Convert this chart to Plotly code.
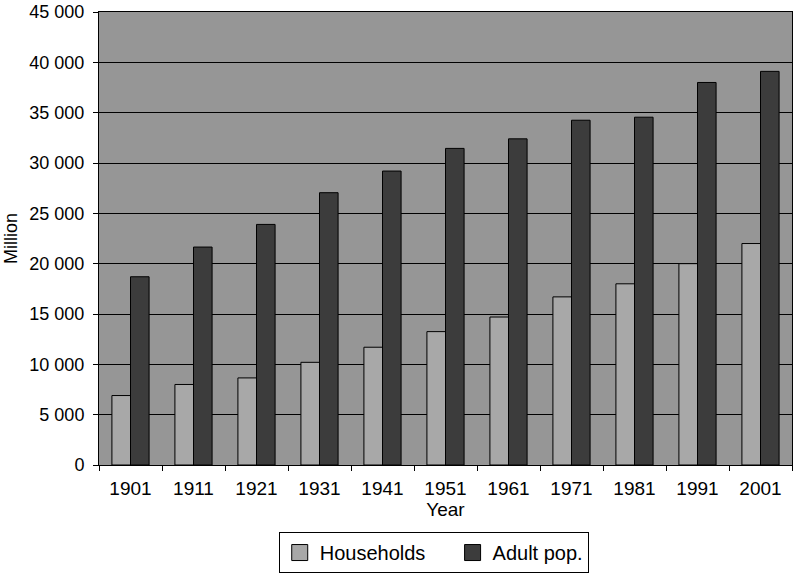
import plotly.graph_objects as go

years = ["1901", "1911", "1921", "1931", "1941", "1951", "1961", "1971", "1981", "1991", "2001"]
households = [6900, 8000, 8650, 10200, 11700, 13250, 14700, 16700, 18000, 20000, 22000]
adult_pop = [18700, 21650, 23900, 27050, 29200, 31450, 32400, 34250, 34550, 38000, 39100]

y_ticks = [0, 5000, 10000, 15000, 20000, 25000, 30000, 35000, 40000, 45000]
y_tick_text = ["0", "5 000", "10 000", "15 000", "20 000", "25 000",
               "30 000", "35 000", "40 000", "45 000"]

FONT = "Liberation Sans, Arial, sans-serif"
HH_COLOR = "#a8a8a8"
ADULT_COLOR = "#3c3c3c"

fig = go.Figure()
fig.add_trace(go.Bar(
    x=years, y=households, name="Households", showlegend=False,
    marker=dict(color=HH_COLOR, line=dict(color="#000000", width=1)),
))
fig.add_trace(go.Bar(
    x=years, y=adult_pop, name="Adult pop.", showlegend=False,
    marker=dict(color=ADULT_COLOR, line=dict(color="#000000", width=1)),
))

# Larger square swatches for the legend (trailing padding widens the first entry)
for name, color in [("Households\u00a0\u00a0\u00a0\u00a0", HH_COLOR), ("Adult pop.", ADULT_COLOR)]:
    fig.add_trace(go.Scatter(
        x=[None], y=[None], mode="markers", name=name,
        marker=dict(symbol="square", size=19, color=color,
                    line=dict(color="#000000", width=1)),
    ))

fig.update_layout(
    width=795, height=577,
    margin=dict(l=99, r=3, t=12, b=112),
    paper_bgcolor="white",
    plot_bgcolor="#969696",
    barmode="group",
    bargap=0.41,
    bargroupgap=0,
    font=dict(family=FONT, size=18, color="#000000"),
    legend=dict(
        orientation="h",
        x=0.483, xanchor="center",
        y=-0.148, yanchor="top",
        bordercolor="#000000", borderwidth=1,
        bgcolor="white",
        font=dict(family=FONT, size=20),
        itemsizing="trace",
    ),
    showlegend=True,
)

fig.update_xaxes(
    type="category",
    showline=True, linecolor="#000000", linewidth=1, mirror=True,
    ticks="outside", ticklen=5, tickcolor="#000000",
    tickson="boundaries",
    showgrid=False,
    ticklabelstandoff=6,
    title=dict(text="Year", standoff=2, font=dict(size=19)),
    tickfont=dict(size=19),
)
fig.update_yaxes(
    range=[0, 45000],
    tickvals=y_ticks, ticktext=y_tick_text,
    showline=True, linecolor="#000000", linewidth=1, mirror=True,
    ticks="outside", ticklen=5, tickcolor="#000000",
    showgrid=True, gridcolor="#000000", gridwidth=1,
    zeroline=False,
    ticklabelstandoff=5,
    title=dict(text="Million", standoff=7, font=dict(size=18)),
    tickfont=dict(size=18),
)

fig.write_html("out.html")
